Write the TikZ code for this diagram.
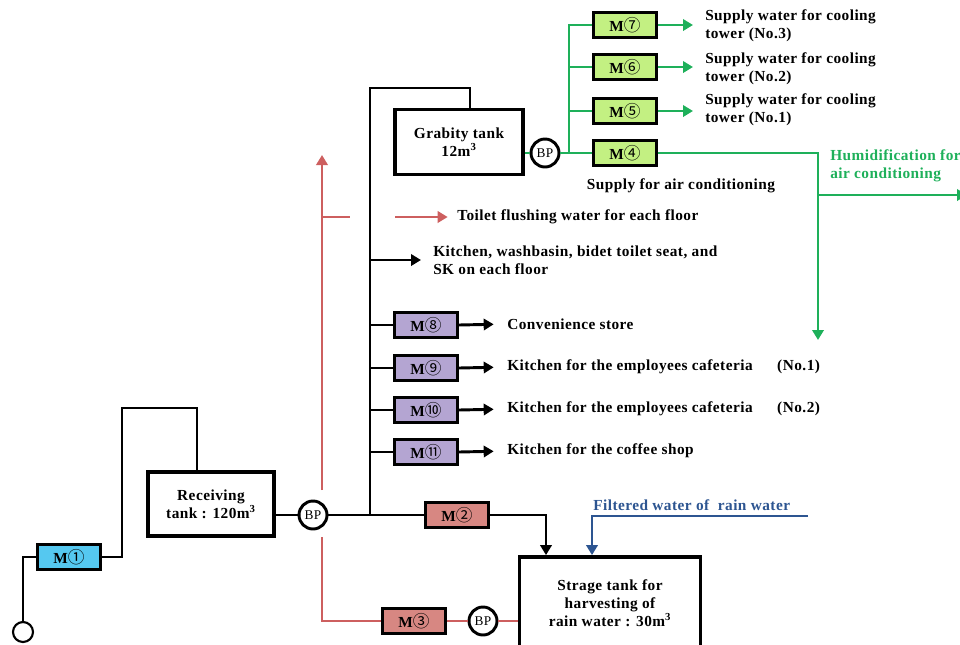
\documentclass[tikz,border=0pt]{standalone}
\usepackage{fontspec}
\setmainfont{Liberation Serif}[LetterSpace=3]
\newfontfamily\circfont{Noto Sans CJK SC}
\usepackage{xcolor}
\usetikzlibrary{arrows.meta, positioning}

\definecolor{pipegreen}{RGB}{30,176,90}
\definecolor{pipered}{RGB}{205,95,95}
\definecolor{pipeblue}{RGB}{45,85,145}
\definecolor{mblue}{RGB}{85,200,240}
\definecolor{mred}{RGB}{215,135,130}
\definecolor{mgreen}{RGB}{195,240,130}
\definecolor{mpurple}{RGB}{180,165,210}

\newcommand{\mtr}[1]{M{\circfont\mdseries\fontsize{12.5}{13}\selectfont #1}}

\begin{document}
\begin{tikzpicture}[
    x=0.75pt, y=-0.75pt,
    every node/.style={font=\bfseries\fontsize{11.5}{13.5}\selectfont},
    tank/.style={draw, line width=2.6pt, align=center, inner sep=2pt},
    meter/.style={draw, line width=2.4pt, minimum width=47pt, minimum height=19pt, inner sep=0pt},
    bp/.style={draw, circle, line width=2.2pt, minimum size=21pt, inner sep=0pt, fill=white, font=\mdseries\fontsize{10}{10}\selectfont},
    lbl/.style={anchor=west, align=left, inner sep=0pt},
    pipe/.style={line width=2.2pt},
    arrow/.style={pipe, -{Triangle[length=7.5pt,width=8.5pt]}}
]
\clip (0,0) rectangle (960,644);

% Tanks and pumps
\node (src) [circle, draw, line width=1.6pt, minimum size=15pt, inner sep=0pt] at (23,632) {};
\node (recv) [tank, minimum width=94.5pt, minimum height=48pt] at (211,504) {Receiving\\tank : 120m\textsuperscript{3}};
\node (bp1) [bp] at (313,515) {BP};
\node (grav) [tank, minimum width=96pt, minimum height=49pt] at (459,142) {Grabity tank\\12m\textsuperscript{3}};
\node (bp2) [bp] at (545,153) {BP};
\node (stor) [tank, minimum width=136pt, minimum height=70pt] at (610,603.5) {Strage tank for\\harvesting of\\rain water : 30m\textsuperscript{3}};
\node (bp3) [bp] at (483,621) {BP};

% Meters
\node (m1) [meter, fill=mblue] at (69,557) {\mtr{①}};
\node (m2) [meter, fill=mred] at (457,515) {\mtr{②}};
\node (m3) [meter, fill=mred] at (414,621) {\mtr{③}};
\node (m4) [meter, fill=mgreen] at (625,153) {\mtr{④}};
\node (m5) [meter, fill=mgreen] at (625,111) {\mtr{⑤}};
\node (m6) [meter, fill=mgreen] at (625,67) {\mtr{⑥}};
\node (m7) [meter, fill=mgreen] at (625,25) {\mtr{⑦}};
\node (m8) [meter, fill=mpurple] at (426,325) {\mtr{⑧}};
\node (m9) [meter, fill=mpurple] at (426,368) {\mtr{⑨}};
\node (m10) [meter, fill=mpurple] at (426,410) {\mtr{⑩}};
\node (m11) [meter, fill=mpurple] at (426,452) {\mtr{⑪}};

% Labels
\node (t7) [lbl] at (705,26) {Supply water for cooling\\tower (No.3)};
\node (t6) [lbl] at (705,69) {Supply water for cooling\\tower (No.2)};
\node (t5) [lbl] at (705,110) {Supply water for cooling\\tower (No.1)};
\node (t4) at (681,186) {Supply for air conditioning};
\node (hum) [lbl, text=pipegreen] at (830,166) {Humidification for\\air conditioning};
\node (toilet) [lbl] at (457,217) {Toilet flushing water for each floor};
\node (kit) [lbl] at (433,260) {Kitchen, washbasin, bidet toilet seat, and\\SK on each floor};
\node (t8) [lbl] at (507,324) {Convenience store};
\node (t9) [lbl] at (507,367) {Kitchen for the employees cafeteria\hspace{1.6em}(No.1)};
\node (t10) [lbl] at (507,409) {Kitchen for the employees cafeteria\hspace{1.6em}(No.2)};
\node (t11) [lbl] at (507,451) {Kitchen for the coffee shop};
\node (filt) [lbl, text=pipeblue] at (593,505) {Filtered water of\ \ rain water};

% Junctions
\coordinate (jb) at (370,515);
\coordinate (jg) at (569,153);
\coordinate (kb) at (370,260);
\coordinate (rlow) at (322,537);
\coordinate (rhigh) at (322,490);
\coordinate (rtop) at (322,155);
\coordinate (rstub) at (322,217);
\coordinate (ts) at (395,217);
\coordinate (hj) at (818,195);
\coordinate (hdown) at (818,340);
\coordinate (hout) at (967,195);
\coordinate (bl) at (808,516);

% Black pipes
\draw[pipe] (src.north) |- (m1.west);
\draw[pipe] (m1.east) -- (122,557) |- (197,408) -- ([xshift=-10.5pt]recv.north);
\draw[pipe] (recv.east |- bp1.west) -- (bp1.west);
\draw[pipe] (bp1.east) -- (m2.west);
\draw[arrow] (m2.east) -| ([xshift=-48pt]stor.north);
\draw[pipe] (jb) -- (370,88) -| ([xshift=8.25pt]grav.north);
\draw[arrow, shorten >=9pt] (kb) -- (kit.west);
\foreach \m in {m8,m9,m10,m11}
  \draw[pipe] (jb |- \m.west) -- (\m.west);
\draw[arrow, shorten >=10pt] (m8.east) -- (t8.west);
\draw[arrow, shorten >=10pt] (m9.east) -- (t9.west);
\draw[arrow, shorten >=10pt] (m10.east) -- (t10.west);
\draw[arrow, shorten >=10pt] (m11.east) -- (t11.west);

% Red pipes
\draw[arrow, pipered] (rhigh) -- (rtop);
\draw[pipe, pipered] (rstub) -- ++(28,0);
\draw[arrow, pipered, shorten >=7pt] (ts) -- (toilet.west);
\draw[pipe, pipered] (rlow) |- (m3.west);
\draw[pipe, pipered] (m3.east) -- (bp3.west);
\draw[pipe, pipered] (bp3.east) -- (stor.west |- bp3.east);

% Green pipes
\draw[pipe, pipegreen] (grav.east |- bp2.west) -- (bp2.west);
\draw[pipe, pipegreen] (bp2.east) -- (m4.west);
\draw[pipe, pipegreen] (jg) |- (m7.west);
\draw[pipe, pipegreen] (jg |- m6.west) -- (m6.west);
\draw[pipe, pipegreen] (jg |- m5.west) -- (m5.west);
\draw[arrow, pipegreen, shorten >=9pt] (m7.east) -- (m7.east -| t7.west);
\draw[arrow, pipegreen, shorten >=9pt] (m6.east) -- (m6.east -| t6.west);
\draw[arrow, pipegreen, shorten >=9pt] (m5.east) -- (m5.east -| t5.west);
\draw[arrow, pipegreen] (m4.east) -| (hdown);
\draw[arrow, pipegreen] (hj) -- (hout);

% Blue pipe
\draw[arrow, pipeblue] (bl) -| ([xshift=-13.5pt]stor.north);

\end{tikzpicture}
\end{document}
